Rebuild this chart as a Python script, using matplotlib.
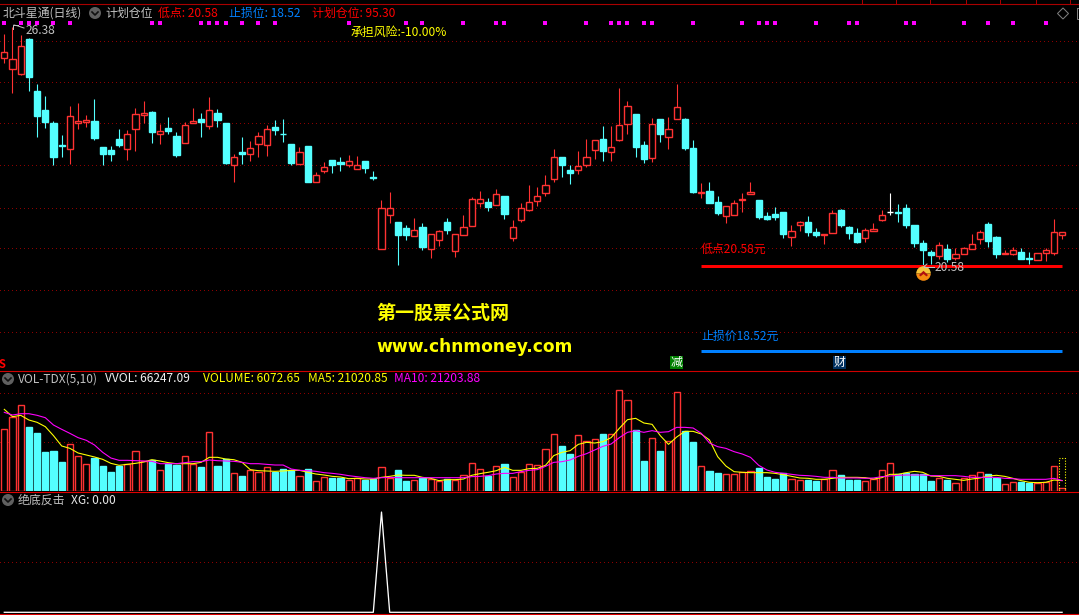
import matplotlib
matplotlib.use("Agg")
import matplotlib.pyplot as plt
from matplotlib.patches import Rectangle, Circle, Polygon
from matplotlib.path import Path
from matplotlib.transforms import offset_copy

plt.rcParams['font.family'] = ['Noto Sans CJK SC', 'DejaVu Sans']

opens = [25.64,25.36,25.25,26.09,24.83,24.37,24.05,23.51,23.43,24.06,24.09,24.10,23.47,23.40,23.67,23.43,23.90,24.26,24.32,23.78,
23.93,23.74,23.58,24.06,24.15,23.99,24.30,24.05,23.04,23.35,23.29,23.54,23.53,23.96,23.79,23.55,23.07,23.50,22.61,22.90,
23.16,23.11,23.03,22.94,23.13,22.74,21.00,21.83,21.65,21.50,21.32,21.53,21.00,21.22,21.65,20.95,21.34,21.56,22.12,22.14,
22.07,22.28,21.27,21.71,21.95,22.17,22.36,22.70,23.23,22.91,22.92,23.04,23.41,23.67,23.36,23.65,24.04,24.27,23.52,23.21,
24.15,23.72,24.16,24.15,23.45,22.35,22.40,22.14,21.80,21.83,22.19,22.34,22.18,21.79,21.84,21.89,21.29,21.58,21.65,21.40,
21.34,21.39,21.94,21.53,21.38,21.27,21.42,21.70,21.90,21.89,21.99,21.58,21.14,20.92,20.83,20.99,20.78,20.86,21.00,21.24,
21.60,21.28,20.86,20.87,20.92,20.78,20.73,20.90,20.90,21.34]
closes = [25.79,25.60,25.92,25.17,24.23,24.09,23.24,23.50,24.22,24.10,24.14,23.69,23.31,23.31,23.52,23.80,24.27,24.29,23.84,23.85,
23.87,23.28,24.00,24.10,24.09,24.36,24.14,23.08,23.22,23.31,23.44,23.73,23.90,23.89,23.78,23.08,23.34,22.62,22.78,22.98,
23.03,23.07,23.12,23.03,22.96,22.73,21.98,21.98,21.33,21.33,21.45,21.04,21.35,21.42,21.45,21.35,21.54,22.22,22.22,22.01,
22.32,21.84,21.54,21.98,22.13,22.27,22.56,23.24,23.03,22.84,23.00,23.24,23.63,23.38,23.46,24.00,24.46,23.47,23.18,24.02,
23.79,23.90,24.44,23.45,22.38,22.39,22.11,21.87,22.03,22.10,22.21,22.38,21.77,21.72,21.77,21.36,21.42,21.64,21.40,21.33,
21.37,21.88,21.58,21.38,21.16,21.45,21.49,21.81,21.90,21.87,21.58,21.14,20.97,20.85,21.08,20.75,20.86,21.01,21.11,21.40,
21.19,20.87,20.89,20.96,20.75,20.76,20.89,20.98,21.40,21.40]
highs = [26.23,26.38,26.19,26.11,25.00,24.71,24.10,23.76,24.47,24.54,24.24,24.64,23.47,23.50,23.91,23.88,24.42,24.58,24.35,24.03,
24.20,23.84,24.08,24.42,24.30,24.69,24.40,24.05,23.29,23.71,23.62,23.84,24.00,24.13,24.15,23.55,23.47,23.50,22.86,23.10,
23.16,23.22,23.28,23.25,23.13,22.89,22.18,22.38,21.65,21.58,21.75,21.63,21.37,21.45,21.75,21.37,21.82,22.26,22.40,22.23,
22.45,22.28,21.70,22.11,22.55,22.50,22.79,23.42,23.23,23.03,23.37,23.67,23.63,23.98,23.98,24.91,24.59,24.27,23.62,24.18,
24.15,24.20,25.00,24.18,23.64,22.60,22.62,22.28,22.05,22.18,22.35,22.62,22.18,21.89,22.01,21.89,21.58,21.67,21.79,21.50,
21.37,21.94,21.96,21.55,21.50,21.50,21.63,21.94,22.35,22.09,22.09,21.58,21.21,20.97,21.16,21.11,21.02,21.04,21.36,21.45,
21.65,21.31,20.97,21.04,21.02,20.92,20.89,21.02,21.72,21.40]
lows = [25.51,24.79,25.22,24.84,23.72,23.94,23.03,23.24,23.07,23.91,23.97,23.65,23.03,23.13,23.47,23.16,23.38,24.05,23.57,23.55,
23.79,23.24,23.58,24.05,23.72,23.92,23.96,23.07,22.63,23.07,23.13,23.23,23.25,23.76,23.59,23.04,23.07,22.62,22.61,22.85,
22.84,22.89,22.99,22.94,22.84,22.67,21.00,21.63,20.60,21.21,21.32,20.97,20.77,21.07,21.36,20.80,21.33,21.56,22.01,21.92,
22.07,21.72,21.19,21.65,21.92,22.04,22.29,22.62,22.74,22.57,22.82,22.99,23.18,23.13,23.13,23.62,23.79,23.23,23.08,23.11,
23.59,23.42,24.16,23.40,22.35,22.23,22.11,21.82,21.63,21.83,21.89,22.34,21.72,21.70,21.70,21.26,21.07,21.43,21.31,21.28,
21.11,21.39,21.53,21.24,21.14,21.16,21.42,21.67,21.82,21.65,21.50,21.04,20.58,20.63,20.75,20.68,20.73,20.86,21.00,21.11,
21.04,20.77,20.86,20.85,20.75,20.63,20.73,20.70,20.85,21.24]

# volume, thousands of lots
volume = [125.1,149.4,173.7,129.8,117.6,79.1,81.1,58.8,94.6,70.3,54.1,66.9,50.7,38.5,50.7,55.4,80.4,60.8,62.9,41.9,
55.4,53.4,70.3,55.4,48.7,119.0,50.7,64.9,35.8,30.4,41.9,37.9,48.0,39.2,44.6,41.9,29.7,44.6,19.6,27.7,
26.4,26.4,21.6,25.7,22.3,23.7,48.0,25.7,42.6,20.3,21.6,27.0,23.7,19.6,23.7,21.6,31.8,56.1,43.9,31.1,
50.0,54.8,27.7,39.2,54.1,52.1,84.5,114.9,91.3,75.0,112.9,100.7,104.8,115.6,114.9,204.2,183.9,123.0,60.8,106.8,
81.1,100.7,200.1,121.0,99.4,50.0,40.6,36.5,33.8,33.8,37.9,39.9,46.6,28.4,24.3,35.8,23.7,21.6,23.0,20.3,
23.7,41.9,32.4,23.0,23.0,19.6,24.3,41.9,56.1,33.8,36.5,33.8,34.5,20.3,25.7,22.3,15.5,25.7,31.8,37.9,
34.5,27.0,13.5,17.6,17.6,16.2,15.5,18.3,50.0,6.07]
ma5 = [165.6,150.7,153.5,144.0,139.3,130.5,112.2,91.3,86.5,77.1,73.0,69.0,64.2,56.1,52.1,54.1,56.1,58.8,63.5,60.8,
57.5,55.4,55.4,55.4,58.1,68.3,68.3,64.9,63.5,58.1,43.3,41.2,40.6,39.9,40.6,41.9,41.9,37.9,34.5,32.4,
29.7,28.4,25.0,25.7,24.3,24.3,27.7,29.7,32.4,31.8,31.8,27.7,25.7,21.0,23.0,23.0,24.3,31.8,35.2,37.9,
41.2,48.0,41.9,41.9,45.3,46.0,52.1,71.7,78.4,81.8,94.6,98.7,97.3,100.0,108.2,127.1,144.7,147.4,137.9,135.2,
112.2,94.6,109.5,121.0,121.0,115.6,103.4,69.6,50.7,39.2,37.9,37.2,37.2,37.2,35.8,33.1,29.7,26.4,25.7,23.7,
23.7,25.7,27.7,27.7,27.7,27.0,24.3,27.0,33.8,33.8,37.2,39.9,37.9,30.4,29.7,25.7,23.7,21.6,24.3,26.4,
30.4,31.8,29.7,25.7,21.0,17.6,16.9,17.6,22.3,21.02]
ma10 = [159.5,154.1,156.8,156.8,153.5,148.7,133.8,125.1,116.9,108.2,102.8,93.3,78.4,66.9,62.2,62.2,61.5,60.8,60.2,55.4,
55.4,55.4,57.5,59.5,59.5,62.9,61.5,60.8,60.2,58.1,55.4,55.4,54.1,52.7,52.7,44.6,41.9,41.2,39.9,37.2,
35.8,33.8,31.1,29.1,27.0,25.7,27.0,27.7,27.0,27.0,27.0,27.0,27.0,27.0,27.0,27.0,27.0,29.1,29.7,31.1,
34.5,35.8,35.8,39.2,41.9,43.3,50.0,58.1,59.5,62.9,70.3,75.7,83.1,90.6,95.3,108.2,119.0,122.4,119.0,122.4,
119.0,120.3,129.1,129.1,127.8,116.9,97.3,89.9,86.5,79.8,75.0,68.3,52.1,42.6,37.9,35.8,33.8,31.8,31.1,29.7,
27.7,27.7,26.4,26.4,26.4,25.7,26.4,29.1,30.4,31.8,32.4,32.4,32.4,31.1,31.1,31.1,31.1,29.7,27.7,27.7,
27.7,27.7,25.7,25.0,23.7,23.7,23.7,23.7,25.7,21.2]
last_vvol = 66.247

dot_bars = [0,2,3,4,6,8,18,19,24,25,26,27,29,31,33,42,49,51,56,60,61,66,71,74,75,76,78,79,84,90,92,93,94,99,103,104,110,111,117,120,123,127]
dot_level = 26.49
xg_peak_bar = 46
xg = [1.0 if i == xg_peak_bar else 0.0 for i in range(len(opens))]

low_price = 20.58
stop_price = 18.52
high_price = 26.38
high_bar = 1
low_bar = 112
line_bars = [85, 129]
main_grid = [26.06, 25.04, 24.05, 23.03, 22.00, 21.01, 20.00, 18.98]
vol_grid = [99, 198]
xg_grid = [0.5]

BG = '#000000'; RED = '#FF3232'; CYAN = '#54FFFF'; DARK = '#AA0000'; GRID = '#8C0000'
MA5C = '#FFFF00'; MA10C = '#FF00FF'; GRAY = '#C0C0C0'; BLUE = '#0080FF'; PURE = '#FF0000'
PX = 0.72
W, H = 1079, 615
fig = plt.figure(figsize=(W / 100, H / 100), dpi=100, facecolor=BG)

def panel(top, bottom, ylim):
    ax = fig.add_axes([0, 1 - bottom / H, 1, (bottom - top) / H], facecolor=BG)
    ax.set_xlim((0 - 4.3) / 8.2, (W - 4.3) / 8.2)
    ax.set_ylim(*ylim)
    ax.axis('off')
    return ax

ax = panel(4, 370, (18.053, 26.947))
av = panel(371, 491, (0, 243.4))
ag = panel(492, 614, (-0.017, 1.2))

dotted = (0, (1, 3))
for a, levels in ((ax, main_grid), (av, vol_grid), (ag, xg_grid)):
    a.hlines(levels, a.get_xlim()[0], a.get_xlim()[1], colors=GRID, lw=PX, linestyles=[dotted], zorder=1, antialiased=False)

xs = list(range(len(opens)))
BW = 0.74
EDGE = PX * 1.4
for i in xs:
    o, c, h, l = opens[i], closes[i], highs[i], lows[i]
    if o == c:
        col, fill = '#FFFFFF', '#FFFFFF'
    elif c > o:
        col, fill = RED, BG
    else:
        col, fill = CYAN, CYAN
    ax.vlines(i, l, h, colors=col, lw=PX * 1.1, zorder=2)
    ax.bar(i, abs(c - o), bottom=min(o, c), width=BW, facecolor=fill, edgecolor=col, lw=EDGE, zorder=3)
    vcol, vfill = (RED, BG) if c >= o else (CYAN, CYAN)
    av.bar(i, volume[i], width=BW, facecolor=vfill, edgecolor=vcol, lw=EDGE, zorder=3)

av.bar(xs[-1], last_vvol, width=BW, facecolor='none', edgecolor=MA5C, lw=PX * 1.1, linestyle=(0, (1, 1.5)), zorder=4)
av.plot(xs, ma5, color=MA5C, lw=PX * 1.1, zorder=5)
av.plot(xs, ma10, color=MA10C, lw=PX * 1.1, zorder=6)

ax.plot(dot_bars, [dot_level] * len(dot_bars), ls='none', marker='s', ms=2.3, mfc=MA10C, mec=MA10C, mew=0, zorder=4)
ax.plot(line_bars, [low_price] * 2, color=PURE, lw=PX * 3, solid_capstyle='butt', zorder=5)
ax.plot(line_bars, [stop_price] * 2, color=BLUE, lw=PX * 3, solid_capstyle='butt', zorder=5)

badge = offset_copy(ax.transData, fig=fig, x=0, y=-7, units='dots')
ax.plot([low_bar], [low_price], transform=badge, marker='o', ms=10.5, mew=0, fillstyle='top',
        mfc='#F5C53A', markerfacecoloralt='#F58A10', zorder=6)
chev = Path([(-1, -0.35), (0, 0.6), (1, -0.35), (0.65, -0.65), (0, -0.1), (-0.65, -0.65), (-1, -0.35)])
ax.plot([low_bar], [low_price], transform=badge, marker=chev, ms=6.5, mew=0, color='#B01010', zorder=7)

ag.plot(xs, xg, color='#FFFFFF', lw=PX * 1.3, zorder=3)

# overlay in pixel space for the terminal's frame and captions
ov = fig.add_axes([0, 0, 1, 1], facecolor='none')
ov.set_xlim(0, W); ov.set_ylim(H, 0); ov.axis('off')
FS = 8.6
def T(x, y, s, c, fs=FS, **k):
    ov.text(x, y, s, color=c, fontsize=fs, va='center', ha=k.pop('ha', 'left'), **k)

for y, c in ((3.5, DARK), (370.7, '#D00000'), (491.8, '#E00000'), (614, '#E00000')):
    ov.plot([0, W], [y, y], color=c, lw=PX * 1.1)
for x in (862, 896, 930, 966, 1000, 1036, 1070):
    ov.plot([x, x], [0, 3], color=DARK, lw=PX)

def icon(x, y):
    ov.add_patch(Circle((x, y), 6, fc='#606060', ec='none'))
    ov.plot([x - 3, x, x + 3], [y - 1, y + 2, y - 1], color='#101010', lw=1.2)

T(3, 13, '北斗星通(日线)', GRAY)
icon(95, 13)
T(105, 13, '计划仓位', GRAY)
T(158, 13, f'低点: {low_price:.2f}', PURE)
T(229, 13, f'止损位: {stop_price:.2f}', BLUE)
T(312, 13, '计划仓位: 95.30', PURE)
T(351, 32, '承担风险:-10.00%', '#FFFF00')
T(26, 30, f'{high_price:.2f}', GRAY)
ov.plot([13, 13, 18], [29, 25, 25], color=GRAY, lw=PX)
ov.plot([14, 18, 24], [25, 26, 28], color=GRAY, lw=PX)
T(701, 249, f'低点{low_price:.2f}元', PURE)
T(701, 336, f'止损价{stop_price:.2f}元', BLUE)
T(935, 267.5, f'{low_price:.2f}', GRAY)
ov.plot([924, 934], [266.5, 266.5], color=GRAY, lw=PX)
ov.plot([924, 927], [266.5, 264], color=GRAY, lw=PX)

T(376, 313, '第一股票公式网', '#FFFF00', fs=13.7, fontweight='bold')
ov.text(376, 347, 'www.chnmoney.com', color='#FFFF00', fontsize=12.3, fontweight='bold',
        va='center', family='DejaVu Sans')

for x, ch, bg in ((670, '减', '#008000'), (833, '财', '#003060')):
    ov.add_patch(Rectangle((x, 356), 13, 13, fc=bg, ec='none'))
    T(x + 6.5, 362, ch, '#FFFFFF', ha='center')
T(-1, 365, 'S', PURE, fs=8, fontweight='bold')

icon(8, 379)
T(18, 379, 'VOL-TDX(5,10)', GRAY)
T(105, 379, f'VVOL: {66247.09:.2f}', '#F0F0F0')
T(203, 379, 'VOLUME: 6072.65', '#FFFF00')
T(308, 379, 'MA5: 21020.85', '#FFFF00')
T(394, 379, 'MA10: 21203.88', MA10C)
icon(8, 500)
T(18, 500, '绝底反击', GRAY)
T(71, 500, 'XG: 0.00', '#E8E8E8')
ov.add_patch(Polygon([(1063, 8), (1068.5, 13.5), (1063, 19), (1057.5, 13.5)], closed=True, fc='none', ec='#808080', lw=PX))
ov.add_patch(Rectangle((1076.5, 8), 6, 11, fc='none', ec='#808080', lw=PX))

fig.savefig('out.png', dpi=100, facecolor=BG)
